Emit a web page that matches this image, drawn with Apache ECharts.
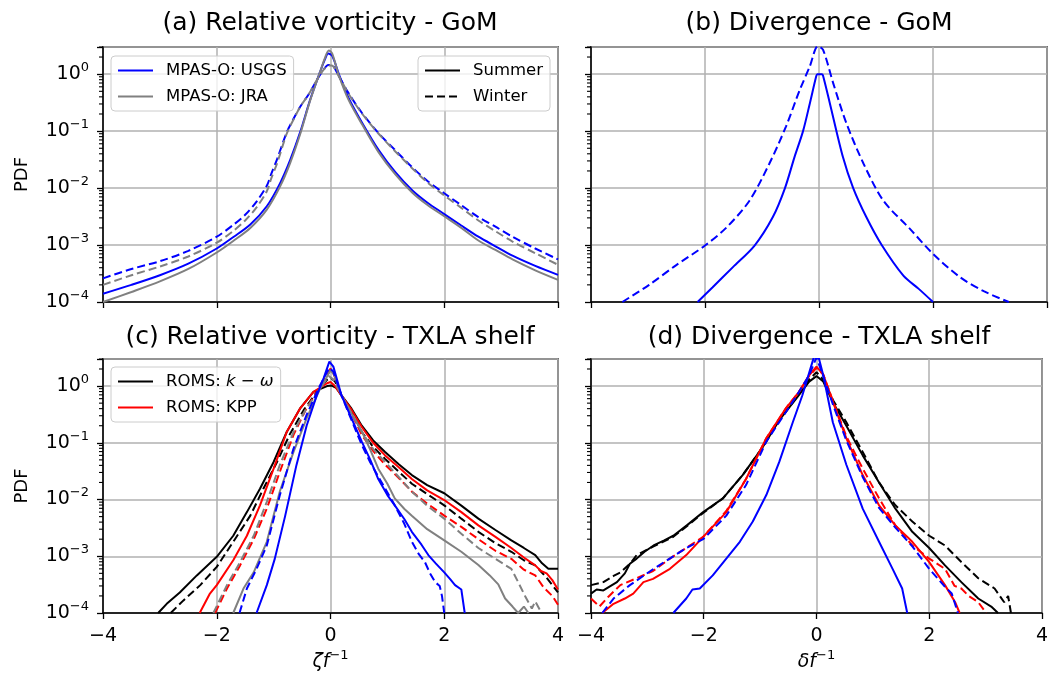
<!DOCTYPE html>
<html>
<head>
<meta charset="utf-8">
<script src="https://cdn.jsdelivr.net/npm/echarts@6/dist/echarts.min.js"></script>
<style>
  html, body { margin: 0; padding: 0; background: #fff; }
  #main { width: 1051px; height: 678px; }
</style>
</head>
<body>
<div id="main"></div>
<script>
// x tick labels and y decades
const xTicks = [-4, -2, 0, 2, 4];
const yDecades = [-4, -3, -2, -1, 0];

// (a) relative vorticity, GoM: [zeta/f, PDF]
const gomVortUsgsSummer = [[-4,1.4e-4],[-3.5,2.0e-4],[-3,2.95e-4],[-2.5,4.7e-4],[-2,8.7e-4],[-1.7,1.4e-3],[-1.41,2.3e-3],[-1.12,4.8e-3],[-0.89,1.2e-2],[-0.71,3.1e-2],[-0.53,9.8e-2],[-0.36,0.35],[-0.18,1.12],[-0.1,1.8],[-0.04,2.3],[0.03,2.1],[0.15,0.98],[0.32,0.38],[0.56,0.138],[0.85,0.046],[1.14,0.019],[1.44,9.1e-3],[1.7,5.6e-3],[2,3.5e-3],[2.3,2.2e-3],[2.6,1.4e-3],[2.9,9.5e-4],[3.2,6.5e-4],[3.6,4.3e-4],[4,3.0e-4]];
const gomVortUsgsWinter = [[-4,2.6e-4],[-3.5,3.8e-4],[-3,5.2e-4],[-2.5,7.9e-4],[-2,1.4e-3],[-1.7,2.3e-3],[-1.5,3.4e-3],[-1.3,5.8e-3],[-1.12,1.1e-2],[-1.04,1.8e-2],[-0.94,3.2e-2],[-0.77,9.5e-2],[-0.65,0.165],[-0.53,0.27],[-0.38,0.45],[-0.24,0.79],[-0.12,1.2],[-0.04,1.45],[0.02,1.45],[0.15,0.91],[0.32,0.46],[0.56,0.204],[0.85,0.091],[1.14,0.046],[1.44,0.023],[1.7,0.0135],[2,8.1e-3],[2.3,5e-3],[2.6,3.1e-3],[2.9,2.1e-3],[3.2,1.4e-3],[3.6,8.7e-4],[4,5.6e-4]];
const gomVortJraSummer = [[-4,1.0e-4],[-3.5,1.5e-4],[-3,2.3e-4],[-2.5,3.8e-4],[-2,7.4e-4],[-1.7,1.2e-3],[-1.41,2.0e-3],[-1.12,4.2e-3],[-0.89,1.05e-2],[-0.71,2.75e-2],[-0.53,9.1e-2],[-0.36,0.34],[-0.18,1.12],[-0.1,1.9],[-0.03,2.6],[0.03,2.3],[0.15,0.93],[0.32,0.35],[0.56,0.129],[0.85,0.042],[1.14,0.0174],[1.44,8.3e-3],[1.7,5.1e-3],[2,3.2e-3],[2.3,2e-3],[2.6,1.2e-3],[2.9,8.2e-4],[3.2,5.6e-4],[3.6,3.6e-4],[4,2.45e-4]];
const gomVortJraWinter = [[-4,2.0e-4],[-3.5,2.95e-4],[-3,4.2e-4],[-2.5,6.3e-4],[-2,1.1e-3],[-1.7,1.8e-3],[-1.5,2.7e-3],[-1.3,4.6e-3],[-1.12,8.8e-3],[-1.04,1.5e-2],[-0.94,2.7e-2],[-0.77,9.0e-2],[-0.65,0.16],[-0.53,0.27],[-0.38,0.45],[-0.24,0.79],[-0.12,1.2],[-0.04,1.42],[0.02,1.42],[0.15,0.9],[0.32,0.45],[0.56,0.2],[0.85,0.089],[1.14,0.044],[1.44,0.022],[1.7,0.0127],[2,7.4e-3],[2.3,4.5e-3],[2.6,2.7e-3],[2.9,1.75e-3],[3.2,1.15e-3],[3.6,7.2e-4],[4,4.5e-4]];

// (b) divergence, GoM
const gomDivUsgsSummer = [[-2.13,1e-4],[-1.87,1.8e-4],[-1.51,4.1e-4],[-1.13,9.8e-4],[-0.81,3.1e-3],[-0.6,9.8e-3],[-0.43,3.5e-2],[-0.28,0.1],[-0.16,0.31],[-0.05,0.91],[-0.03,1.0],[0.05,1.0],[0.07,0.95],[0.19,0.31],[0.42,0.035],[0.6,1.0e-2],[0.83,3.1e-3],[1.1,1.0e-3],[1.48,2.9e-4],[1.75,1.7e-4],[2.0,1e-4]];
const gomDivUsgsWinter = [[-3.45,1e-4],[-2.98,2.0e-4],[-2.51,4.4e-4],[-2.0,9.8e-4],[-1.63,2.0e-3],[-1.22,6.0e-3],[-0.87,2.7e-2],[-0.58,0.12],[-0.34,0.52],[-0.16,1.38],[-0.02,3.1],[0.07,2.7],[0.25,0.69],[0.48,0.138],[0.78,0.027],[1.13,6.0e-3],[1.6,1.9e-3],[2.0,7.0e-4],[2.48,2.7e-4],[2.89,1.55e-4],[3.33,1e-4]];

// (c) relative vorticity, TXLA shelf
const txlaVortKwSummer = [[-3.03,1e-4],[-2.88,1.45e-4],[-2.65,2.3e-4],[-2.35,4.6e-4],[-2.0,9.8e-4],[-1.71,2.3e-3],[-1.47,6e-3],[-1.24,1.55e-2],[-1.0,4.6e-2],[-0.77,0.155],[-0.53,0.41],[-0.3,0.79],[-0.06,1.0],[0.02,1.02],[0.1,0.93],[0.19,0.69],[0.37,0.4],[0.55,0.2],[0.75,0.11],[0.96,0.069],[1.2,0.042],[1.43,0.027],[1.7,0.018],[2.0,0.0129],[2.3,0.0078],[2.6,0.0046],[2.9,0.0029],[3.18,0.0019],[3.4,0.0014],[3.6,0.00105],[3.72,7.5e-4],[3.83,6e-4],[3.9,6e-4],[4.0,6e-4]];
const txlaVortKwWinter = [[-2.81,1e-4],[-2.59,1.65e-4],[-2.29,3.1e-4],[-2.0,6.5e-4],[-1.71,1.8e-3],[-1.41,5.2e-3],[-1.18,1.55e-2],[-0.94,4.6e-2],[-0.71,0.145],[-0.47,0.38],[-0.24,0.79],[-0.06,1.29],[0.0,1.42],[0.08,1.2],[0.19,0.69],[0.37,0.36],[0.55,0.155],[0.75,0.085],[0.96,0.052],[1.2,0.031],[1.43,0.019],[1.7,0.0125],[2.0,0.0079],[2.3,0.0046],[2.6,0.0027],[2.9,0.0017],[3.18,0.0012],[3.4,8.5e-4],[3.6,6.9e-4],[3.8,4.2e-4],[4.0,2.3e-4]];
const txlaVortKppSummer = [[-2.3,1e-4],[-2.12,2.2e-4],[-2.0,3.1e-4],[-1.71,8.5e-4],[-1.47,2.3e-3],[-1.24,7.9e-3],[-1.0,3.5e-2],[-0.77,0.155],[-0.53,0.41],[-0.3,0.79],[-0.06,1.12],[0.0,1.18],[0.08,1.0],[0.19,0.69],[0.37,0.38],[0.55,0.19],[0.75,0.1],[0.96,0.06],[1.2,0.037],[1.43,0.023],[1.7,0.0145],[2.0,0.0098],[2.3,0.006],[2.6,0.0035],[2.9,0.0022],[3.18,0.0014],[3.4,9.5e-4],[3.6,6.9e-4],[3.7,5.5e-4],[3.8,5e-4],[3.9,3.8e-4],[4.0,2.6e-4]];
const txlaVortKppWinter = [[-2.03,1e-4],[-1.82,2.7e-4],[-1.59,6.9e-4],[-1.35,2e-3],[-1.12,6.9e-3],[-0.89,3.1e-2],[-0.65,0.138],[-0.42,0.41],[-0.18,0.98],[-0.04,1.66],[0.0,2.05],[0.06,1.6],[0.19,0.69],[0.37,0.33],[0.55,0.138],[0.75,0.072],[0.96,0.041],[1.2,0.024],[1.43,0.0138],[1.7,0.0085],[2.0,0.0052],[2.3,0.0033],[2.6,0.002],[2.9,0.00125],[3.18,9e-4],[3.4,5.8e-4],[3.6,4.6e-4],[3.75,2.8e-4],[3.9,2e-4],[4.0,1.4e-4]];
const txlaVortJraSummer = [[-1.71,1e-4],[-1.53,2.7e-4],[-1.35,5.2e-4],[-1.12,1.8e-3],[-0.89,1.4e-2],[-0.65,0.069],[-0.42,0.27],[-0.18,0.91],[0.0,1.9],[0.06,1.6],[0.19,0.69],[0.37,0.33],[0.55,0.16],[0.7,0.075],[0.84,0.035],[1.0,0.019],[1.13,0.0105],[1.3,0.0068],[1.43,0.0052],[1.7,0.003],[2.0,0.0019],[2.3,0.0012],[2.6,7e-4],[2.8,4.6e-4],[2.95,3.2e-4],[3.07,1.8e-4],[3.2,1.3e-4],[3.3,1e-4],[3.4,1.3e-4],[3.48,1e-4]];
const txlaVortJraWinter = [[-2.06,1e-4],[-1.82,3.1e-4],[-1.59,7.9e-4],[-1.35,2.3e-3],[-1.12,9.1e-3],[-0.89,4.1e-2],[-0.65,0.155],[-0.42,0.41],[-0.18,0.91],[-0.03,1.5],[0.05,1.3],[0.19,0.69],[0.37,0.33],[0.55,0.155],[0.75,0.078],[0.96,0.046],[1.2,0.025],[1.43,0.0138],[1.7,0.0078],[2.0,0.0046],[2.3,0.0025],[2.6,0.0014],[2.9,9e-4],[3.18,6e-4],[3.3,3.5e-4],[3.42,2e-4],[3.54,1.2e-4],[3.6,1.6e-4],[3.71,1e-4]];
const txlaVortUsgsSummer = [[-1.3,1e-4],[-1.12,3.1e-4],[-0.98,9e-4],[-0.8,5e-3],[-0.6,0.04],[-0.42,0.2],[-0.24,0.69],[-0.12,1.38],[-0.02,2.7],[0.05,2.2],[0.19,0.7],[0.35,0.3],[0.55,0.105],[0.7,0.05],[0.84,0.023],[1.0,0.012],[1.13,0.0079],[1.3,0.0045],[1.43,0.0027],[1.6,0.0016],[1.72,0.00105],[1.85,7.5e-4],[2.0,5.2e-4],[2.1,4e-4],[2.19,3.1e-4],[2.3,2.6e-4],[2.36,1e-4]];
const txlaVortUsgsWinter = [[-1.6,1e-4],[-1.47,2.7e-4],[-1.3,6e-4],[-1.12,1.55e-3],[-0.89,1.2e-2],[-0.65,0.079],[-0.42,0.31],[-0.18,1.05],[-0.02,2.1],[0.05,1.8],[0.19,0.7],[0.35,0.28],[0.55,0.092],[0.7,0.045],[0.9,0.02],[1.13,0.0079],[1.3,0.0037],[1.43,0.0018],[1.55,0.0011],[1.66,7.9e-4],[1.75,5e-4],[1.84,3.5e-4],[1.92,3e-4],[1.96,2e-4],[2.0,1e-4]];

// (d) divergence, TXLA shelf
const txlaDivKwSummer = [[-4,2.2e-4],[-3.9,2.6e-4],[-3.78,2.5e-4],[-3.65,3e-4],[-3.54,3.5e-4],[-3.4,5e-4],[-3.31,7.4e-4],[-3.19,9.1e-4],[-3.05,1.2e-3],[-2.89,1.55e-3],[-2.7,1.9e-3],[-2.54,2.3e-3],[-2.3,3.5e-3],[-2.01,6e-3],[-1.66,1.05e-2],[-1.31,2.7e-2],[-0.95,8.5e-2],[-0.66,0.25],[-0.36,0.6],[-0.13,1.2],[0,1.5],[0.12,1.2],[0.3,0.5],[0.53,0.2],[0.82,0.06],[1.11,0.02],[1.4,6.9e-3],[1.7,2.7e-3],[2.0,1.4e-3],[2.28,6.9e-4],[2.57,3.5e-4],[2.87,1.8e-4],[3.1,1.3e-4],[3.22,1e-4]];
const txlaDivKwWinter = [[-4,3.1e-4],[-3.78,3.5e-4],[-3.6,4.5e-4],[-3.48,5.2e-4],[-3.3,7.5e-4],[-3.19,1.05e-3],[-2.89,1.5e-3],[-2.54,2.2e-3],[-2.3,3.4e-3],[-2.01,5.8e-3],[-1.66,1.05e-2],[-1.31,2.7e-2],[-0.95,8.5e-2],[-0.66,0.25],[-0.36,0.62],[-0.13,1.3],[0,1.75],[0.12,1.3],[0.3,0.55],[0.53,0.23],[0.82,0.069],[1.11,0.02],[1.4,7.9e-3],[1.7,4.1e-3],[2.0,2.3e-3],[2.28,1.55e-3],[2.57,7.9e-4],[2.87,4.1e-4],[3.16,2.7e-4],[3.33,1.55e-4],[3.4,2e-4],[3.45,1e-4]];
const txlaDivKppSummer = [[-3.8,1e-4],[-3.6,1.45e-4],[-3.4,1.8e-4],[-3.25,2.2e-4],[-3.07,3.5e-4],[-2.9,4e-4],[-2.6,6e-4],[-2.31,1.05e-3],[-2.01,2.2e-3],[-1.6,6e-3],[-1.25,2.3e-2],[-0.89,0.12],[-0.54,0.41],[-0.31,0.79],[-0.13,1.55],[0,2.2],[0.12,1.6],[0.3,0.5],[0.53,0.12],[0.82,0.027],[1.11,7.9e-3],[1.4,3.5e-3],[1.7,1.8e-3],[2.0,7.9e-4],[2.28,3.1e-4],[2.46,1.55e-4],[2.54,1e-4]];
const txlaDivKppWinter = [[-4,1.8e-4],[-3.85,1.3e-4],[-3.7,1.9e-4],[-3.48,3.1e-4],[-3.19,4.1e-4],[-2.9,5.5e-4],[-2.6,9.1e-4],[-2.01,2.2e-3],[-1.6,6.3e-3],[-1.25,2.3e-2],[-0.89,0.12],[-0.54,0.41],[-0.31,0.79],[-0.13,1.5],[0,2.1],[0.12,1.6],[0.3,0.52],[0.53,0.13],[0.82,0.035],[1.11,0.0105],[1.4,3.5e-3],[1.7,1.55e-3],[2.0,9.1e-4],[2.28,6e-4],[2.45,3e-4],[2.57,2.7e-4],[2.7,2e-4],[2.87,1.55e-4],[3.01,1e-4]];
const txlaDivUsgsSummer = [[-2.54,1e-4],[-2.31,1.8e-4],[-2.2,2.6e-4],[-2.07,2.7e-4],[-1.84,4.6e-4],[-1.6,9.1e-4],[-1.36,1.8e-3],[-1.13,4.1e-3],[-0.89,1.2e-2],[-0.66,4.6e-2],[-0.42,0.23],[-0.25,0.69],[-0.07,2.7],[0,4.5],[0.12,1.55],[0.29,0.23],[0.53,0.041],[0.82,6.9e-3],[1.11,1.8e-3],[1.35,6e-4],[1.52,2.7e-4],[1.61,1e-4]];
const txlaDivUsgsWinter = [[-3.8,1e-4],[-3.6,1.8e-4],[-3.31,3.1e-4],[-2.89,6e-4],[-2.31,1.4e-3],[-2.01,2.0e-3],[-1.6,5.2e-3],[-1.25,1.8e-2],[-0.89,0.105],[-0.54,0.35],[-0.31,0.79],[-0.13,1.55],[0,3.2],[0.12,1.5],[0.3,0.45],[0.53,0.11],[0.82,0.025],[1.11,7.1e-3],[1.4,3.2e-3],[1.7,1.5e-3],[2.0,6e-4],[2.28,2.9e-4],[2.4,2.2e-4],[2.51,1e-4]];

const FONT = 'DejaVu Sans';
const BLUE = '#0000ff', GRAY = '#808080', RED = '#ff0000', BLACK = '#000000';

const chart = echarts.init(document.getElementById('main'));

// log minor ticks 2..9 x 10^n, like matplotlib
const minorTickValues = [];
yDecades.forEach(n => {
  for (let k = 2; k <= 9; k++) {
    const v = k * Math.pow(10, n);
    if (v <= 3) minorTickValues.push(v);
  }
});

const grids = [
  { left: 103, top: 47, width: 455, height: 255 },
  { left: 591, top: 47, width: 456, height: 255 },
  { left: 103, top: 359, width: 455, height: 254 },
  { left: 591, top: 359, width: 456, height: 254 }
].map(g => Object.assign(g, { show: true, borderColor: '#000', borderWidth: 1.5, backgroundColor: 'transparent' }));

const minus = v => (v < 0 ? '\u2212' + (-v) : String(v));

function logLabel(v) {
  const e = Math.log10(v);
  const r = Math.round(e);
  if (Math.abs(e - r) > 1e-6) return '';
  return '{b|10}{sup|' + minus(r) + '}';
}

const xNames = ['', '', '{i|\u03b6f}{sup|\u22121}', '{i|\u03b4f}{sup|\u22121}'];

const xAxes = grids.map((g, i) => ({
  type: 'value', gridIndex: i, min: xTicks[0], max: xTicks[xTicks.length - 1], interval: 2,
  axisLine: { show: true, onZero: false, lineStyle: { color: '#000', width: 1.5 } },
  axisTick: { show: true, length: 6, lineStyle: { color: '#000', width: 1.3 } },
  axisLabel: { show: i >= 2, margin: 14, fontSize: 19, fontFamily: FONT, color: '#000', formatter: minus },
  splitLine: { show: true, lineStyle: { color: '#b0b0b0', width: 1.5 } },
  name: xNames[i], nameLocation: 'middle', nameGap: 36,
  nameTextStyle: {
    fontSize: 19, fontFamily: FONT, color: '#000',
    rich: {
      i: { fontSize: 19, fontFamily: FONT, fontStyle: 'italic', color: '#000', lineHeight: 26 },
      sup: { fontSize: 13, fontFamily: FONT, color: '#000', verticalAlign: 'top' }
    }
  }
}));

const yAxes = grids.map((g, i) => ({
  type: 'log', logBase: 10, gridIndex: i, min: 1e-4, max: 3,
  axisLine: { show: true, onZero: false, lineStyle: { color: '#000', width: 1.5 } },
  axisTick: { show: true, length: 6, lineStyle: { color: '#000', width: 1.3 } },
  axisLabel: {
    show: i % 2 === 0, margin: 14, color: '#000', formatter: logLabel,
    rich: {
      b: { fontSize: 19, fontFamily: FONT, color: '#000', lineHeight: 26 },
      sup: { fontSize: 13, fontFamily: FONT, color: '#000', verticalAlign: 'top' }
    }
  },
  splitLine: { show: true, lineStyle: { color: '#b0b0b0', width: 1.5 } },
  name: i % 2 === 0 ? 'PDF' : '', nameLocation: 'middle', nameGap: 72,
  nameTextStyle: { fontSize: 18, fontFamily: FONT, color: '#000' }
}));

function line(name, data, color, dashed, gi, smooth) {
  return {
    type: 'line', name: name, data: data, xAxisIndex: gi, yAxisIndex: gi,
    symbol: 'none', showSymbol: false, clip: true, silent: true, smooth: smooth || false,
    lineStyle: { color: color, width: 2, type: dashed ? [8, 4] : 'solid' },
    itemStyle: { color: color }, z: 3
  };
}

function minorTicks(gi) {
  return {
    type: 'custom', xAxisIndex: gi, yAxisIndex: gi, silent: true, z: 6, clip: false,
    data: minorTickValues.map(v => [xTicks[0], v]),
    renderItem: (params, api) => {
      const p = api.coord([api.value(0), api.value(1)]);
      return { type: 'line', shape: { x1: p[0] - 4, y1: p[1], x2: p[0], y2: p[1] },
               style: { stroke: '#000', lineWidth: 1.1 } };
    }
  };
}

const series = [
  // (a)
  line('MPAS-O: USGS', gomVortUsgsSummer, BLUE, false, 0, 0.3),
  line('MPAS-O: USGS', gomVortUsgsWinter, BLUE, true, 0, 0.3),
  line('MPAS-O: JRA', gomVortJraSummer, GRAY, false, 0, 0.3),
  line('MPAS-O: JRA', gomVortJraWinter, GRAY, true, 0, 0.3),
  // legend-only entries for season line style
  { type: 'line', name: 'Summer', data: [], xAxisIndex: 0, yAxisIndex: 0, symbol: 'none',
    lineStyle: { color: BLACK, width: 2.5, type: 'solid' }, itemStyle: { color: BLACK } },
  { type: 'line', name: 'Winter', data: [], xAxisIndex: 0, yAxisIndex: 0, symbol: 'none',
    lineStyle: { color: BLACK, width: 2.5, type: [8, 4] }, itemStyle: { color: BLACK } },
  // (b)
  line('MPAS-O: USGS', gomDivUsgsSummer, BLUE, false, 1, 0.3),
  line('MPAS-O: USGS', gomDivUsgsWinter, BLUE, true, 1, 0.3),
  // (c)
  line('ROMS: k-omega', txlaVortKwSummer, BLACK, false, 2),
  line('ROMS: k-omega', txlaVortKwWinter, BLACK, true, 2),
  line('ROMS: KPP', txlaVortKppSummer, RED, false, 2),
  line('ROMS: KPP', txlaVortKppWinter, RED, true, 2),
  line('MPAS-O: JRA', txlaVortJraSummer, GRAY, false, 2),
  line('MPAS-O: JRA', txlaVortJraWinter, GRAY, true, 2),
  line('MPAS-O: USGS', txlaVortUsgsSummer, BLUE, false, 2),
  line('MPAS-O: USGS', txlaVortUsgsWinter, BLUE, true, 2),
  // (d)
  line('ROMS: k-omega', txlaDivKwSummer, BLACK, false, 3),
  line('ROMS: k-omega', txlaDivKwWinter, BLACK, true, 3),
  line('ROMS: KPP', txlaDivKppSummer, RED, false, 3),
  line('ROMS: KPP', txlaDivKppWinter, RED, true, 3),
  line('MPAS-O: USGS', txlaDivUsgsSummer, BLUE, false, 3),
  line('MPAS-O: USGS', txlaDivUsgsWinter, BLUE, true, 3),
  minorTicks(0), minorTicks(1), minorTicks(2), minorTicks(3)
];

const legendBase = {
  orient: 'vertical', itemWidth: 35, itemHeight: 14, itemGap: 9,
  padding: [6, 7, 6, 6], selectedMode: false,
  backgroundColor: 'rgba(255,255,255,0.8)', borderColor: '#cccccc', borderWidth: 1, borderRadius: 4,
  itemStyle: { opacity: 0, color: 'rgba(0,0,0,0)', borderColor: 'rgba(0,0,0,0)', borderWidth: 0 },
  textStyle: {
    fontSize: 16.5, fontFamily: FONT, color: '#000', padding: [0, 0, 0, 8],
    rich: {
      n: { fontSize: 16.5, fontFamily: FONT, color: '#000' },
      i: { fontSize: 16.5, fontFamily: FONT, color: '#000', fontStyle: 'italic' }
    }
  }
};

const titleBase = { textAlign: 'center', padding: 0, textStyle: { fontSize: 25, fontWeight: 'normal', fontFamily: FONT, color: '#000' } };

const option = {
  animation: false,
  textStyle: { fontFamily: FONT },
  title: [
    Object.assign({ text: '(a) Relative vorticity - GoM', left: 330, top: 11 }, titleBase),
    Object.assign({ text: '(b) Divergence - GoM', left: 819, top: 11 }, titleBase),
    Object.assign({ text: '(c) Relative vorticity - TXLA shelf', left: 330, top: 325 }, titleBase),
    Object.assign({ text: '(d) Divergence - TXLA shelf', left: 819, top: 325 }, titleBase)
  ],
  legend: [
    Object.assign({ data: ['MPAS-O: USGS', 'MPAS-O: JRA'], left: 111, top: 56 }, legendBase),
    Object.assign({ data: ['Summer', 'Winter'], left: 418, top: 56 }, legendBase),
    Object.assign({
      data: ['ROMS: k-omega', 'ROMS: KPP'], left: 111, top: 367,
      formatter: name => (name === 'ROMS: k-omega' ? '{n|ROMS: }{i|k}{n| \u2212 }{i|\u03c9}' : '{n|' + name + '}')
    }, legendBase)
  ],
  grid: grids,
  xAxis: xAxes,
  yAxis: yAxes,
  series: series
};

chart.setOption(option);
</script>
</body>
</html>
